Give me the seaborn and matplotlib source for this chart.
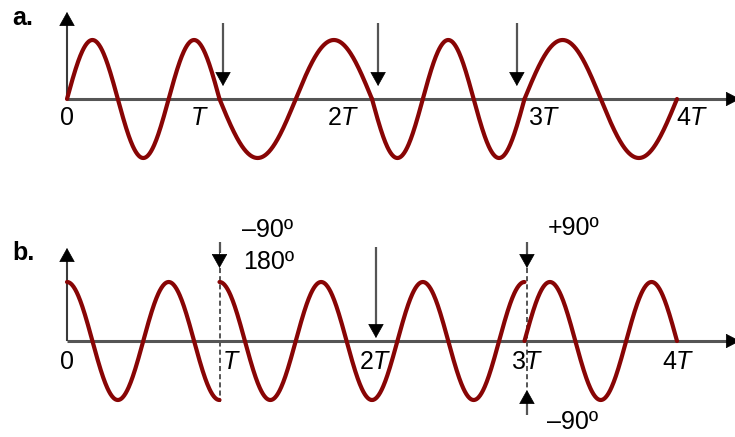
import numpy as np
import pandas as pd
import matplotlib
matplotlib.use("Agg")
import matplotlib.pyplot as plt
import seaborn as sns

# Symbol boundaries, in units of the symbol period T
symbol_edges = [0, 1, 2, 3, 4]

# a. frequency keying: carrier cycles inside each symbol (phase kept continuous)
fsk_cycles = [1.5, 1.0, 1.5, 1.0]

# b. phase keying: 1.5 cycles per symbol, carrier phase of each symbol (deg, cosine)
psk_cycles = [1.5, 1.5, 1.5, 1.5]
psk_phase_deg = [0, 0, 180, -90]

# tick labels and where they sit (in T)
tick_labels = ["0", "$T$", "2$T$", "3$T$", "4$T$"]
tick_pos_a = [0, 0.87, 1.81, 3.13, 4.10]
tick_pos_b = [0, 1.08, 2.02, 3.02, 4.01]

# marker arrows (x position in T)
arrows_a = [1.023, 2.04, 2.95]
arrows_b = [1.0, 2.026, 3.016]
dashed_b = [1.0, 3.016]

# phase annotations in panel b
notes_b = ["\u201390\u00ba", "180\u00ba", "+90\u00ba", "\u201390\u00ba"]
notes_b_pos = [(1.148, 1.88), (1.154, 1.34), (3.154, 1.915), (3.148, -1.373)]

WAVE = "#880505"
AXIS = "#555555"
PX_T = 152.5     # pixels per T
PX_A = 59.0      # pixels per unit amplitude


def build_fsk(edges, cycles, n=300):
    rows = []
    phase0 = 0.0
    for k, c in enumerate(cycles):
        tau = np.linspace(0, 1, n)
        t = edges[k] + tau * (edges[k + 1] - edges[k])
        v = np.sin(phase0 + 2 * np.pi * c * tau)
        rows.append(pd.DataFrame({"t": t, "v": v, "seg": k}))
        phase0 += 2 * np.pi * c
    return pd.concat(rows, ignore_index=True)


def build_psk(edges, cycles, phases, n=300):
    rows = []
    for k, (c, p) in enumerate(zip(cycles, phases)):
        tau = np.linspace(0, 1, n)
        t = edges[k] + tau * (edges[k + 1] - edges[k])
        v = np.cos(2 * np.pi * c * tau + np.deg2rad(p))
        rows.append(pd.DataFrame({"t": t, "v": v, "seg": k}))
    return pd.concat(rows, ignore_index=True)


def arrow(ax, x, y_tail, y_tip, head_px=13, shaft=AXIS, lw=1.6):
    # gray shaft plus black triangular head
    sign = 1 if y_tail > y_tip else -1
    base = y_tip + sign * head_px / PX_A
    ax.plot([x, x], [y_tail, base], color=shaft, lw=lw, solid_capstyle="butt", zorder=2)
    ax.annotate("", xy=(x, y_tip), xytext=(x, base), annotation_clip=False,
                arrowprops=dict(arrowstyle="-|>,head_length=0.93,head_width=0.52",
                                mutation_scale=10, color="black", lw=0.5,
                                shrinkA=0, shrinkB=0), zorder=4)


def harrow(ax, x0, x_tip, head_px=13, lw=2.2):
    base = x_tip - head_px / PX_T
    ax.plot([x0, base], [0, 0], color=AXIS, lw=lw, solid_capstyle="butt", zorder=1)
    ax.annotate("", xy=(x_tip, 0), xytext=(base, 0), annotation_clip=False,
                arrowprops=dict(arrowstyle="-|>,head_length=0.93,head_width=0.48",
                                mutation_scale=10, color="black", lw=0.5,
                                shrinkA=0, shrinkB=0), zorder=4)


sns.set_style("white")
plt.rcParams["font.family"] = ["Liberation Sans", "DejaVu Sans"]
plt.rcParams["mathtext.fontset"] = "custom"
plt.rcParams["mathtext.rm"] = "Liberation Sans"
plt.rcParams["mathtext.it"] = "Liberation Sans:italic"
plt.rcParams["text.color"] = "black"

fig = plt.figure(figsize=(7.35, 4.37), dpi=100)
W, H = 735, 437
x_lim = (-67 / PX_T, (W - 67) / PX_T)

# panel a: pixel rows 0..200, zero line at 99
ax_a = fig.add_axes([0, 1 - 200 / H, 1, 200 / H])
ax_a.set_xlim(*x_lim)
ax_a.set_ylim(-(200 - 99) / PX_A, 99 / PX_A)

# panel b: pixel rows 200..437, zero line at 341
ax_b = fig.add_axes([0, 0, 1, 237 / H])
ax_b.set_xlim(*x_lim)
ax_b.set_ylim(-(H - 341) / PX_A, (341 - 200) / PX_A)

fsk = build_fsk(symbol_edges, fsk_cycles)
psk = build_psk(symbol_edges, psk_cycles, psk_phase_deg)

for ax, df in [(ax_a, fsk), (ax_b, psk)]:
    sns.lineplot(data=df, x="t", y="v", units="seg", estimator=None, sort=False,
                 color=WAVE, lw=3.0, legend=False, ax=ax, zorder=3)
    ax.axis("off")

# axes with arrows
arrow(ax_a, 0, 0, 87 / PX_A, head_px=12, shaft="#3a3a3a", lw=1.5)
harrow(ax_a, 0, (740 - 67) / PX_T)
arrow(ax_b, 0, 0, 93 / PX_A, head_px=13, shaft="#3a3a3a", lw=1.5)
harrow(ax_b, 0, (740 - 67) / PX_T)

# marker arrows, panel a
for x in arrows_a:
    arrow(ax_a, x, 76 / PX_A, 13 / PX_A)

# marker arrows, panel b
arrow(ax_b, arrows_b[0], 99 / PX_A, 73 / PX_A, head_px=15)
arrow(ax_b, arrows_b[1], 94 / PX_A, 3 / PX_A)
arrow(ax_b, arrows_b[2], 99 / PX_A, 73 / PX_A, head_px=14)
arrow(ax_b, arrows_b[2], -74 / PX_A, -49 / PX_A, head_px=13)

# dashed guides at the phase jumps
ax_b.plot([dashed_b[0]] * 2, [73 / PX_A, -61 / PX_A], color=AXIS, lw=1.4,
          ls=(0, (2.6, 1.6)), zorder=2)
ax_b.plot([dashed_b[1]] * 2, [73 / PX_A, -49 / PX_A], color=AXIS, lw=1.4,
          ls=(0, (2.6, 1.6)), zorder=2)

# tick labels
for lab, x in zip(tick_labels, tick_pos_a):
    ax_a.text(x, -19 / PX_A, lab, ha="center", va="center", fontsize=18)
for lab, x in zip(tick_labels, tick_pos_b):
    ax_b.text(x, -21 / PX_A, lab, ha="center", va="center", fontsize=18)

# phase notes
for txt, (x, y) in zip(notes_b, notes_b_pos):
    ax_b.text(x, y, txt, ha="left", va="center", fontsize=18)

fig.text(12 / W, 1 - 18 / H, "a.", ha="left", va="center", fontsize=18, fontweight="bold")
fig.text(12 / W, 1 - 253 / H, "b.", ha="left", va="center", fontsize=18, fontweight="bold")

fig.savefig("out.png", dpi=100)
